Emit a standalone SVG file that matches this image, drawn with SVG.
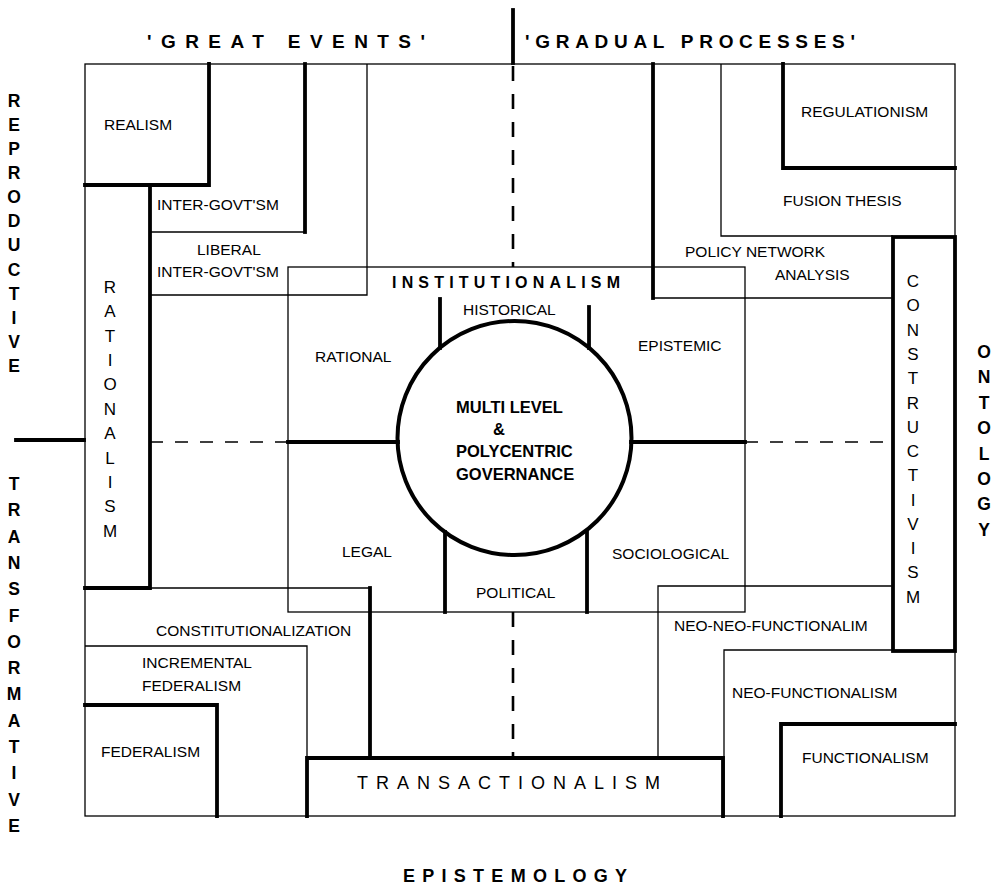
<svg xmlns="http://www.w3.org/2000/svg" width="997" height="886" viewBox="0 0 997 886">
<style>
.t{font-family:"Liberation Sans",Arial,sans-serif;font-size:15.5px;fill:#000}
.b{font-weight:bold}
.v{text-anchor:middle}
.ax{font-size:19px}
.vl{font-size:17.5px}
.col{font-size:17px}
.ctr{font-size:16.5px}
.thin{stroke:#000;stroke-width:1.3;fill:none}
.thick{stroke:#000;stroke-width:3.8;fill:none;stroke-linecap:square}
.dv{stroke:#000;stroke-width:2.6;stroke-dasharray:15 13;fill:none}
.dh{stroke:#000;stroke-width:1.5;stroke-dasharray:13 12;fill:none}
</style>
<rect width="997" height="886" fill="#fff"/>

<g id="frame">
<rect class="thin" x="85" y="64" width="870" height="752"/>
</g>

<g id="axes-labels">
<text class="t b ax" x="147" y="48" textLength="278" lengthAdjust="spacing">'GREAT EVENTS'</text>
<text class="t b ax" x="525" y="48" textLength="330" lengthAdjust="spacing">'GRADUAL PROCESSES'</text>
<text class="t b" x="403" y="882" style="font-size:18px" textLength="224" lengthAdjust="spacing">EPISTEMOLOGY</text>
<text class="t b v vl">
<tspan x="14" y="107">R</tspan><tspan x="14" y="131">E</tspan><tspan x="14" y="155">P</tspan><tspan x="14" y="179">R</tspan><tspan x="14" y="203">O</tspan><tspan x="14" y="227">D</tspan><tspan x="14" y="251">U</tspan><tspan x="14" y="276">C</tspan><tspan x="14" y="300">T</tspan><tspan x="14" y="324">I</tspan><tspan x="14" y="348">V</tspan><tspan x="14" y="372">E</tspan>
</text>
<text class="t b v vl">
<tspan x="14" y="490">T</tspan><tspan x="14" y="516">R</tspan><tspan x="14" y="543">A</tspan><tspan x="14" y="569">N</tspan><tspan x="14" y="595">S</tspan><tspan x="14" y="622">F</tspan><tspan x="14" y="648">O</tspan><tspan x="14" y="674">R</tspan><tspan x="14" y="700">M</tspan><tspan x="14" y="727">A</tspan><tspan x="14" y="753">T</tspan><tspan x="14" y="779">I</tspan><tspan x="14" y="806">V</tspan><tspan x="14" y="832">E</tspan>
</text>
<text class="t b v vl">
<tspan x="984" y="358">O</tspan><tspan x="984" y="383">N</tspan><tspan x="984" y="409">T</tspan><tspan x="984" y="434">O</tspan><tspan x="984" y="460">L</tspan><tspan x="984" y="485">O</tspan><tspan x="984" y="510">G</tspan><tspan x="984" y="536">Y</tspan>
</text>
</g>

<g id="realism">
<path class="thick" d="M209,64 V185 H85"/>
<text class="t" x="104" y="130">REALISM</text>
</g>

<g id="rationalism">
<path class="thick" d="M150,185 V588 H85"/>
<text class="t v col">
<tspan x="110" y="293">R</tspan><tspan x="110" y="317">A</tspan><tspan x="110" y="342">T</tspan><tspan x="110" y="366">I</tspan><tspan x="110" y="390">O</tspan><tspan x="110" y="415">N</tspan><tspan x="110" y="439">A</tspan><tspan x="110" y="464">L</tspan><tspan x="110" y="488">I</tspan><tspan x="110" y="512">S</tspan><tspan x="110" y="537">M</tspan>
</text>
</g>

<g id="inter-govtsm">
<path class="thick" d="M305,64 V232"/>
<path class="thin" d="M150,232 H305"/>
<text class="t" x="157" y="210">INTER-GOVT'SM</text>
</g>

<g id="liberal-inter-govtsm">
<path class="thin" d="M367,64 V295 H150"/>
<text class="t" x="197" y="255">LIBERAL</text>
<text class="t" x="157" y="277">INTER-GOVT'SM</text>
</g>

<g id="policy-network-analysis">
<path class="thick" d="M653,64 V298"/>
<path class="thin" d="M653,298 H893"/>
<text class="t" x="685" y="257">POLICY NETWORK</text>
<text class="t" x="775" y="280">ANALYSIS</text>
</g>

<g id="fusion-thesis">
<path class="thin" d="M721,64 V236 H893"/>
<text class="t" x="783" y="206">FUSION THESIS</text>
</g>

<g id="regulationism">
<path class="thick" d="M783,64 V168 H955"/>
<text class="t" x="801" y="117">REGULATIONISM</text>
</g>

<g id="constructivism">
<rect class="thick" x="893" y="237" width="62" height="414"/>
<text class="t v col">
<tspan x="913" y="287">C</tspan><tspan x="913" y="311">O</tspan><tspan x="913" y="336">N</tspan><tspan x="913" y="360">S</tspan><tspan x="913" y="384">T</tspan><tspan x="913" y="409">R</tspan><tspan x="913" y="433">U</tspan><tspan x="913" y="457">C</tspan><tspan x="913" y="481">T</tspan><tspan x="913" y="506">I</tspan><tspan x="913" y="530">V</tspan><tspan x="913" y="554">I</tspan><tspan x="913" y="578">S</tspan><tspan x="913" y="603">M</tspan>
</text>
</g>

<g id="institutionalism">
<rect class="thin" x="288" y="267" width="457" height="345"/>
<text class="t b" x="392" y="288" style="font-size:16px" textLength="228" lengthAdjust="spacing">INSTITUTIONALISM</text>
<text class="t" x="463" y="315">HISTORICAL</text>
<text class="t" x="315" y="362">RATIONAL</text>
<text class="t" x="638" y="351">EPISTEMIC</text>
<text class="t" x="342" y="557">LEGAL</text>
<text class="t" x="612" y="559">SOCIOLOGICAL</text>
<text class="t" x="476" y="598">POLITICAL</text>
</g>

<g id="multi-level-governance">
<circle cx="514.5" cy="438" r="117" fill="#fff" stroke="#000" stroke-width="4"/>
<text class="t b ctr">
<tspan x="456" y="413">MULTI LEVEL</tspan><tspan x="493" y="435">&amp;</tspan><tspan x="456" y="457">POLYCENTRIC</tspan><tspan x="456" y="480">GOVERNANCE</tspan>
</text>
</g>

<g id="constitutionalization">
<path class="thin" d="M150,588 H370"/>
<path class="thick" d="M370,588 V758"/>
<text class="t" x="156" y="636">CONSTITUTIONALIZATION</text>
</g>

<g id="incremental-federalism">
<path class="thin" d="M85,646 H307 V758"/>
<text class="t" x="142" y="668">INCREMENTAL</text>
<text class="t" x="142" y="691">FEDERALISM</text>
</g>

<g id="federalism">
<path class="thick" d="M85,705 H217 V816"/>
<text class="t" x="101" y="757">FEDERALISM</text>
</g>

<g id="transactionalism">
<path class="thick" d="M307,816 V758 H723 V816"/>
<text class="t" x="357" y="789" style="font-size:18px" textLength="303" lengthAdjust="spacing">TRANSACTIONALISM</text>
</g>

<g id="neo-neo-functionalism">
<path class="thin" d="M893,586 H658 V758"/>
<text class="t" x="674" y="631">NEO-NEO-FUNCTIONALIM</text>
</g>

<g id="neo-functionalism">
<path class="thin" d="M893,650 H724 V816"/>
<text class="t" x="732" y="698">NEO-FUNCTIONALISM</text>
</g>

<g id="functionalism">
<path class="thick" d="M955,724 H781 V816"/>
<text class="t" x="802" y="763">FUNCTIONALISM</text>
</g>

<g id="connectors">
<path class="thick" d="M513,10 V63"/>
<path class="thick" d="M16,440 H84"/>
<path class="dv" d="M513,66 V267"/>
<path class="dv" d="M513,612 V758"/>
<path class="dh" d="M150,442 H288"/>
<path class="dh" d="M745,442 H893"/>
<path class="thick" d="M288,442 H398"/>
<path class="thick" d="M631,442 H745"/>
<path class="thick" d="M440,299 V348"/>
<path class="thick" d="M589,307 V348"/>
<path class="thick" d="M445,532 V612"/>
<path class="thick" d="M587,532 V612"/>
</g>
</svg>
